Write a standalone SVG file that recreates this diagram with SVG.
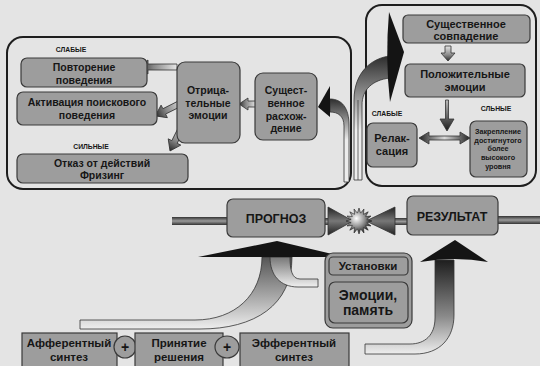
<svg xmlns="http://www.w3.org/2000/svg" width="540" height="366" viewBox="0 0 540 366">
<style>
.frame{fill:none;stroke:#1e1e1e;stroke-width:2}
.box{fill:#9d9d9d;stroke:#3a3a3a;stroke-width:1.2}
.t{font-family:"Liberation Sans",Arial,sans-serif;font-weight:bold;fill:#161616;text-anchor:middle}
.s{font-size:10.5px}
.m{font-size:11px}
.b{font-size:12.5px}
.xs{font-size:6.8px}
.tiny{font-size:7.2px}
.blk{fill:#141414}
.ol{stroke:#333;stroke-width:0.8}
</style>
<defs>
<linearGradient id="gArr" x1="0" y1="0" x2="1" y2="0">
<stop offset="0" stop-color="#e6e6e6"/><stop offset="0.6" stop-color="#888"/><stop offset="1" stop-color="#2a2a2a"/>
</linearGradient>
<linearGradient id="gDark" x1="0" y1="0" x2="1" y2="0">
<stop offset="0" stop-color="#bbb"/><stop offset="1" stop-color="#1a1a1a"/>
</linearGradient>
<linearGradient id="gDbl" x1="0" y1="0" x2="1" y2="0">
<stop offset="0" stop-color="#222"/><stop offset="0.5" stop-color="#d8d8d8"/><stop offset="1" stop-color="#222"/>
</linearGradient>
<linearGradient id="gBar" x1="0" y1="0" x2="0" y2="1">
<stop offset="0" stop-color="#333"/><stop offset="0.5" stop-color="#9a9a9a"/><stop offset="1" stop-color="#333"/>
</linearGradient>
<linearGradient id="gBow" x1="0" y1="0" x2="0" y2="1">
<stop offset="0" stop-color="#222"/><stop offset="0.5" stop-color="#777"/><stop offset="1" stop-color="#222"/>
</linearGradient>
<linearGradient id="gTopShaft" gradientUnits="userSpaceOnUse" x1="0" y1="55" x2="0" y2="130">
<stop offset="0" stop-color="#2a2a2a"/><stop offset="1" stop-color="#ececec"/>
</linearGradient>
<linearGradient id="gSmallShaft" gradientUnits="userSpaceOnUse" x1="0" y1="98" x2="0" y2="140">
<stop offset="0" stop-color="#2a2a2a"/><stop offset="1" stop-color="#ececec"/>
</linearGradient>
<linearGradient id="gMain" gradientUnits="userSpaceOnUse" x1="0" y1="257" x2="0" y2="329">
<stop offset="0" stop-color="#555"/><stop offset="0.55" stop-color="#a8a8a8"/><stop offset="1" stop-color="#eeeeee"/>
</linearGradient>
<linearGradient id="gSecond" gradientUnits="userSpaceOnUse" x1="0" y1="257" x2="0" y2="287">
<stop offset="0" stop-color="#777"/><stop offset="1" stop-color="#f0f0f0"/>
</linearGradient>
<linearGradient id="gRight" gradientUnits="userSpaceOnUse" x1="0" y1="260" x2="0" y2="354">
<stop offset="0" stop-color="#1e1e1e"/><stop offset="0.6" stop-color="#8a8a8a"/><stop offset="1" stop-color="#eeeeee"/>
</linearGradient>
<radialGradient id="gStar" cx="0.4" cy="0.4" r="0.6">
<stop offset="0" stop-color="#ffffff"/><stop offset="0.5" stop-color="#999"/><stop offset="1" stop-color="#222"/>
</radialGradient>
</defs>
<rect width="540" height="366" fill="#e4e4e4"/>

<g id="frames">
<rect class="frame" x="7" y="37" width="344" height="152" rx="16"/>
<rect class="frame" x="366" y="5" width="170" height="181" rx="16"/>
</g>

<g id="connectors">
<!-- left box arrows -->
<path class="ol" fill="url(#gArr)" d="M0,-3 L29,-3 L29,-7 L39,0 L29,7 L29,3 L0,3 Z" transform="translate(177,67) rotate(180)"/>
<path class="ol" fill="url(#gArr)" d="M0,-3 L21,-3 L21,-7 L31,0 L21,7 L21,3 L0,3 Z" transform="translate(183,102) rotate(153.4)"/>
<path class="ol" fill="url(#gArr)" d="M0,-3 L19,-3 L19,-7 L29,0 L19,7 L19,3 L0,3 Z" transform="translate(183,125) rotate(116.6)"/>
<path class="ol" fill="url(#gArr)" d="M0,-3 L8,-3 L8,-6 L17,0 L8,6 L8,3 L0,3 Z" transform="translate(256,104) rotate(180)"/>
<!-- right box arrows -->
<path class="ol" fill="url(#gArr)" d="M0,-3 L7,-3 L7,-7 L15,0 L7,7 L7,3 L0,3 Z" transform="translate(448,46) rotate(90)"/>
<path class="ol" fill="url(#gDark)" d="M0,-1.5 L19,-1.5 L19,-7 L31,0 L19,7 L19,1.5 L0,1.5 Z" transform="translate(447,100) rotate(90)"/>
<path class="ol" fill="url(#gDbl)" d="M419,138 L429,132 L429,136 L460,136 L460,132 L470,138 L460,144 L460,140 L429,140 L429,144 Z"/>
<!-- curved arrow to Существенное совпадение -->
<path class="ol" fill="url(#gTopShaft)" d="M390,56 C372,58 354,72 354,100 L354,180 L362,180 L362,105 C362,90 372,80 390,78 Z"/>
<line x1="358" y1="100" x2="358" y2="180" stroke="#333" stroke-width="0.7"/>
<path class="blk" d="M389,12 L404,52 L390,102 Q385,58 389,12 Z"/>
<!-- curved arrow to Существенное расхождение -->
<path class="ol" fill="url(#gSmallShaft)" d="M330,99 C342,99 349,108 349,125 L349,182 L344,182 L344,126 C344,116 338,112 330,112 Z"/>
<path class="blk" d="M330,86 L318,107 L330,117 Z"/>
<!-- bottom big arrow to ПРОГНОЗ -->
<path class="ol" fill="url(#gMain)" d="M80,320 L195,320 C235,320 262,295 262,257 L292,257 C292,305 255,329 200,329 L80,329 Z"/>
<path class="ol" fill="url(#gSecond)" d="M270,257 C270,275 280,287 298,287 L318,287 L318,279 L300,279 C292,279 290,270 290,257 Z"/>
<path class="blk" d="M198,257 L277,241 L345,257 Z"/>
<!-- right arrow to РЕЗУЛЬТАТ -->
<path class="ol" fill="url(#gRight)" d="M435,260 L435,318 C435,335 425,344 410,344 L365,344 L365,354 L415,354 C440,354 454,338 454,315 L454,260 Z"/>
<path class="blk" d="M420,262 L455,240 L488,262 Q455,256 420,262 Z"/>
<!-- horizontal bars and collision -->
<rect x="172" y="217" width="55" height="8" fill="url(#gBar)"/>
<rect x="498" y="216" width="42" height="8" fill="url(#gBar)"/>
<rect x="325" y="218" width="5" height="7" fill="url(#gBar)"/>
<rect x="394" y="218" width="13" height="7" fill="url(#gBar)"/>
<path class="ol" fill="url(#gBow)" d="M328,207 L353,221 L328,235 Z"/>
<path class="ol" fill="url(#gBow)" d="M395,207 L366,221 L395,235 Z"/>
<polygon fill="url(#gStar)" stroke="#222" stroke-width="0.6" transform="translate(359,221)" points="13,0 7.85,1.56 12.01,4.97 6.65,4.44 9.19,9.19 4.44,6.65 4.97,12.01 1.56,7.85 0,13 -1.56,7.85 -4.97,12.01 -4.44,6.65 -9.19,9.19 -6.65,4.44 -12.01,4.97 -7.85,1.56 -13,0 -7.85,-1.56 -12.01,-4.97 -6.65,-4.44 -9.19,-9.19 -4.44,-6.65 -4.97,-12.01 -1.56,-7.85 0,-13 1.56,-7.85 4.97,-12.01 4.44,-6.65 9.19,-9.19 6.65,-4.44 12.01,-4.97 7.85,-1.56"/>
</g>

<g id="labels">
<text class="t xs" x="71" y="52">СЛАБЫЕ</text>
<text class="t xs" x="91" y="149">СИЛЬНЫЕ</text>
<text class="t xs" x="387" y="116">СЛАБЫЕ</text>
<text class="t xs" x="496" y="111">СЛЬНЫЕ</text>
</g>

<g id="node-povtorenie">
<rect class="box" x="21" y="58" width="126" height="29" rx="6"/>
<text class="t s" x="84" y="71">Повторение</text>
<text class="t s" x="84" y="84">поведения</text>
</g>
<g id="node-aktivaciya">
<rect class="box" x="17" y="92" width="140" height="33" rx="6"/>
<text class="t s" x="87" y="106">Активация поискового</text>
<text class="t s" x="87" y="119">поведения</text>
</g>
<g id="node-otkaz">
<rect class="box" x="17" y="154" width="171" height="29" rx="6"/>
<text class="t s" x="102" y="167">Отказ от действий</text>
<text class="t s" x="102" y="179">Фризинг</text>
</g>
<g id="node-otric">
<rect class="box" x="177" y="62" width="63" height="81" rx="8"/>
<text class="t s" x="208" y="94">Отрица-</text>
<text class="t s" x="208" y="107">тельные</text>
<text class="t s" x="208" y="119">эмоции</text>
</g>
<g id="node-rashozhdenie">
<rect class="box" x="255" y="73" width="62" height="67" rx="8"/>
<text class="t s" x="286" y="94">Сущест-</text>
<text class="t s" x="286" y="107">венное</text>
<text class="t s" x="286" y="120">расхож-</text>
<text class="t s" x="286" y="132">дение</text>
</g>
<g id="node-sovpadenie">
<rect class="box" x="403" y="15" width="127" height="28" rx="5"/>
<text class="t m" x="466" y="28">Существенное</text>
<text class="t m" x="466" y="40">совпадение</text>
</g>
<g id="node-polozhit">
<rect class="box" x="405" y="64" width="120" height="33" rx="5"/>
<text class="t m" x="465" y="78">Положительные</text>
<text class="t m" x="465" y="91">эмоции</text>
</g>
<g id="node-relaksaciya">
<rect class="box" x="367" y="123" width="50" height="44" rx="6"/>
<text class="t m" x="392" y="142">Релак-</text>
<text class="t m" x="392" y="155">сация</text>
</g>
<g id="node-zakreplenie">
<rect class="box" x="470" y="121" width="57" height="56" rx="6"/>
<text class="t tiny" x="498" y="134">Закрепление</text>
<text class="t tiny" x="498" y="143">достигнутого</text>
<text class="t tiny" x="498" y="151">более</text>
<text class="t tiny" x="498" y="160">высокого</text>
<text class="t tiny" x="498" y="169">уровня</text>
</g>
<g id="node-prognoz">
<rect class="box" x="227" y="199" width="98" height="38" rx="6"/>
<text class="t b" x="276" y="223">ПРОГНОЗ</text>
</g>
<g id="node-rezultat">
<rect class="box" x="407" y="196" width="91" height="39" rx="6"/>
<text class="t b" x="452" y="221">РЕЗУЛЬТАТ</text>
</g>
<g id="node-ustanovki">
<rect class="box" x="325" y="253" width="87" height="75" rx="8"/>
<rect class="box" x="329" y="257" width="79" height="18" rx="4"/>
<text class="t" font-size="11.5" x="368" y="270">Установки</text>
<rect class="box" x="329" y="282" width="79" height="41" rx="6"/>
<text class="t" font-size="14" x="368" y="300">Эмоции,</text>
<text class="t" font-size="14" x="368" y="315">память</text>
</g>
<g id="node-afferent">
<rect class="box" x="22" y="333" width="95" height="40"/>
<text class="t" font-size="11.5" x="69" y="347">Афферентный</text>
<text class="t" font-size="11.5" x="69" y="361">синтез</text>
</g>
<g id="node-plus1">
<ellipse class="box" cx="125" cy="347" rx="11" ry="11"/>
<text class="t" font-size="14" x="125" y="352">+</text>
</g>
<g id="node-prinyatie">
<rect class="box" x="135" y="333" width="88" height="40"/>
<text class="t" font-size="11.5" x="179" y="347">Принятие</text>
<text class="t" font-size="11.5" x="179" y="361">решения</text>
</g>
<g id="node-plus2">
<ellipse class="box" cx="227" cy="347" rx="12" ry="11"/>
<text class="t" font-size="14" x="227" y="352">+</text>
</g>
<g id="node-efferent">
<rect class="box" x="240" y="333" width="109" height="40"/>
<text class="t" font-size="11.5" x="294" y="347">Эфферентный</text>
<text class="t" font-size="11.5" x="294" y="361">синтез</text>
</g>
</svg>
